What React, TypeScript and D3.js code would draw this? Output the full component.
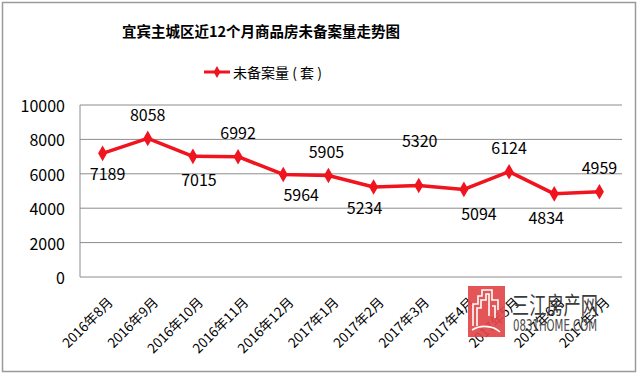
import React, { useEffect, useRef } from "react";
import * as d3 from "d3";

// Chart data
const months = [
  "2016年8月",
  "2016年9月",
  "2016年10月",
  "2016年11月",
  "2016年12月",
  "2017年1月",
  "2017年2月",
  "2017年3月",
  "2017年4月",
  "2017年5月",
  "2017年6月",
  "2017年7月",
];
const unsold = [7189, 8058, 7015, 6992, 5964, 5905, 5234, 5320, 5094, 6124, 4834, 4959];
const yTicks = [0, 2000, 4000, 6000, 8000, 10000];

const title = "宜宾主城区近12个月商品房未备案量走势图";
const seriesName = "未备案量 ( 套 )";

// label nudges (dx, dy) relative to each marker, as placed in the original
const labelOffsets: [number, number][] = [
  [5, 20], [0, -24], [6, 23], [0, -25], [18, 20], [-2, -24],
  [-9, 20], [1, -45], [15, 24], [0, -25], [-8, 23], [0, -25],
];

const FONT = "'Noto Sans CJK SC', 'Noto Sans', sans-serif";

export default function App() {
  const svgRef = useRef<SVGSVGElement>(null);

  useEffect(() => {
    const width = 640;
    const height = 374;
    const plot = { left: 80, right: 622, top: 105, bottom: 277 };
    const red = "#f0141e";

    const svg = d3.select(svgRef.current).attr("width", width).attr("height", height);
    svg.selectAll("*").remove();

    svg.append("rect").attr("width", width).attr("height", height).attr("fill", "#fff");

    // outer frame
    svg
      .append("rect")
      .attr("x", 2.5)
      .attr("y", 2.5)
      .attr("width", 633)
      .attr("height", 369)
      .attr("fill", "none")
      .attr("stroke", "#9a9a9a")
      .attr("stroke-width", 1.5);

    const x = d3.scaleBand<string>().domain(months).range([plot.left, plot.right]);
    const cx = (m: string) => x(m)! + x.bandwidth() / 2;
    const y = d3.scaleLinear().domain([0, 10000]).range([plot.bottom, plot.top]);

    // Title
    svg
      .append("text")
      .attr("x", 261)
      .attr("y", 30)
      .attr("text-anchor", "middle")
      .attr("dominant-baseline", "central")
      .style("font-family", FONT)
      .style("font-size", "14.5px")
      .style("font-weight", "bold")
      .attr("fill", "#000")
      .text(title);

    // Legend
    const lg = svg.append("g").attr("transform", "translate(204, 72)");
    lg.append("line").attr("x1", 0).attr("x2", 26).attr("stroke", red).attr("stroke-width", 3);
    lg.append("path").attr("d", d3.symbol(d3.symbolDiamond, 40)()).attr("transform", "translate(13,0)").attr("fill", red);
    lg.append("text")
      .attr("x", 29)
      .attr("dominant-baseline", "central")
      .style("font-family", FONT)
      .style("font-size", "14px")
      .attr("fill", "#000")
      .text(seriesName);

    // Grid lines
    svg
      .append("g")
      .selectAll("line")
      .data(yTicks)
      .join("line")
      .attr("x1", plot.left)
      .attr("x2", plot.right)
      .attr("y1", (d) => y(d))
      .attr("y2", (d) => y(d))
      .attr("stroke", "#8c8c8c")
      .attr("stroke-width", 1);

    // plot area left edge
    svg
      .append("line")
      .attr("x1", plot.left)
      .attr("x2", plot.left)
      .attr("y1", plot.top)
      .attr("y2", plot.bottom)
      .attr("stroke", "#8c8c8c");

    // Y tick labels
    svg
      .append("g")
      .selectAll("text")
      .data(yTicks)
      .join("text")
      .attr("x", 65)
      .attr("y", (d) => y(d))
      .attr("text-anchor", "end")
      .attr("dominant-baseline", "central")
      .style("font-family", FONT)
      .style("font-size", "16px")
      .attr("fill", "#000")
      .text((d) => String(d));

    // X tick labels, rotated
    svg
      .append("g")
      .selectAll("text")
      .data(months)
      .join("text")
      .attr("transform", (d) => `translate(${cx(d) + 7}, ${plot.bottom + 22}) rotate(-45)`)
      .attr("text-anchor", "end")
      .attr("dominant-baseline", "central")
      .style("font-family", FONT)
      .style("font-size", "13.5px")
      .attr("fill", "#000")
      .text((d) => d);

    // Line
    const pts = months.map((m, i) => ({ m, v: unsold[i], i }));
    const line = d3
      .line<{ m: string; v: number }>()
      .x((d) => cx(d.m))
      .y((d) => y(d.v));
    svg
      .append("path")
      .datum(pts)
      .attr("fill", "none")
      .attr("stroke", red)
      .attr("stroke-width", 3.5)
      .attr("stroke-linejoin", "round")
      .attr("d", line);

    svg
      .append("g")
      .selectAll("path")
      .data(pts)
      .join("path")
      .attr("d", d3.symbol(d3.symbolDiamond, 70)())
      .attr("transform", (d) => `translate(${cx(d.m)}, ${y(d.v)})`)
      .attr("fill", red);

    // Data labels
    svg
      .append("g")
      .selectAll("text")
      .data(pts)
      .join("text")
      .attr("x", (d) => cx(d.m) + labelOffsets[d.i][0])
      .attr("y", (d) => y(d.v) + labelOffsets[d.i][1])
      .attr("text-anchor", "middle")
      .attr("dominant-baseline", "central")
      .style("font-family", FONT)
      .style("font-size", "16px")
      .attr("fill", "#000")
      .text((d) => String(d.v));

    // Watermark
    const wm = svg.append("g").attr("transform", "translate(468, 286)");
    wm.append("rect").attr("width", 37).attr("height", 51).attr("fill", "#e2474a").attr("opacity", 0.92);
    wm.append("path")
      .attr(
        "d",
        "M5,40 L5,18 L10,18 L10,10 L14,10 L14,4 L24,4 L24,14 L30,14 L30,24 M9,40 L9,22 L13,22 L13,14 L18,14 L18,8 L21,8 L21,30 M24,20 L27,20 L27,32 M4,44 Q14,38 26,42 Q30,44 32,46"
      )
      .attr("fill", "none")
      .attr("stroke", "#fff")
      .attr("stroke-width", 1.6);
    wm.append("text")
      .attr("x", 44)
      .attr("y", 17)
      .attr("dominant-baseline", "central")
      .style("font-family", FONT)
      .style("font-size", "24px")
      .attr("fill", "#3c3c3c")
      .attr("textLength", 86)
      .attr("lengthAdjust", "spacingAndGlyphs")
      .text("三江房产网");
    wm.append("text")
      .attr("x", 45)
      .attr("y", 40)
      .attr("dominant-baseline", "central")
      .style("font-family", "'Liberation Sans Narrow', 'DejaVu Sans Condensed', sans-serif")
      .style("font-size", "15px")
      .attr("fill", "#4a4a4a")
      .attr("textLength", 84)
      .attr("lengthAdjust", "spacingAndGlyphs")
      .text("0831HOME.COM");
  }, []);

  return (
    <div style={{ position: "absolute", left: 0, top: 0 }}>
      <svg ref={svgRef} style={{ display: "block" }} />
    </div>
  );
}
